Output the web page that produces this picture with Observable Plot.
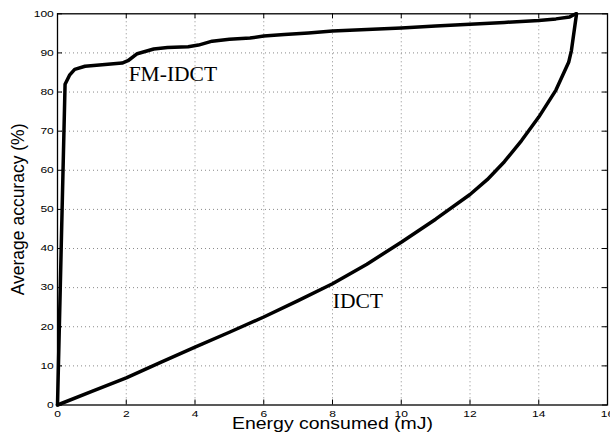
<!DOCTYPE html>
<html>
<head>
<meta charset="utf-8">
<script src="https://cdn.jsdelivr.net/npm/d3@7"></script>
<script src="https://cdn.jsdelivr.net/npm/@observablehq/plot@0.6"></script>
<style>
  body { margin: 0; background: #fff; }
  #chart svg { font-family: "Liberation Sans", Arial, sans-serif; background: #fff; overflow: visible; }
</style>
</head>
<body>
<div id="chart"></div>
<script>
// Axis ticks
const xTicks = [0, 2, 4, 6, 8, 10, 12, 14, 16];
const yTicks = [0, 10, 20, 30, 40, 50, 60, 70, 80, 90, 100];

// FM-IDCT: average accuracy (%) against energy consumed (mJ)
const fmEnergy   = [0, 0.22, 0.35, 0.5, 0.8, 1.3, 1.88, 2.05, 2.32, 2.8, 3.2, 3.8, 4.1, 4.5, 5.0, 5.6, 6.0, 6.6, 7.3, 8.0, 9.0, 10.0, 11.0, 12.0, 13.0, 14.0, 14.5, 14.9, 15.08];
const fmAccuracy = [0, 82.0, 84.3, 85.8, 86.6, 87.0, 87.4, 88.0, 89.8, 91.0, 91.4, 91.6, 92.0, 93.0, 93.5, 93.8, 94.3, 94.7, 95.1, 95.6, 96.0, 96.4, 96.9, 97.3, 97.8, 98.3, 98.7, 99.2, 100];

// IDCT: average accuracy (%) against energy consumed (mJ)
const idctEnergy   = [0, 1, 2, 3, 4, 5, 6, 7, 8, 9, 10, 11, 12, 12.5, 13, 13.5, 14, 14.5, 14.87, 14.95, 15.1];
const idctAccuracy = [0, 3.5, 6.95, 10.9, 14.8, 18.6, 22.5, 26.7, 31.0, 36.0, 41.6, 47.5, 53.8, 57.6, 62.2, 67.6, 73.6, 80.5, 87.6, 90.6, 100];

// Curve labels
const labelNames    = ["FM-IDCT", "IDCT"];
const labelEnergy   = [2.07, 8.01];
const labelAccuracy = [82.7, 24.7];

const fmData = fmEnergy.map((x, i) => ({x, y: fmAccuracy[i]}));
const idctData = idctEnergy.map((x, i) => ({x, y: idctAccuracy[i]}));
const labels = labelNames.map((text, i) => ({text, x: labelEnergy[i], y: labelAccuracy[i]}));

const W = 610, H = 443;
const mL = 57, mR = 3, mT = 13.3, mB = 38.5;
const plotW = W - mL - mR, plotH = H - mT - mB;
const tickLen = 5;
const inner = (arr) => arr.slice(1, -1);

const chart = Plot.plot({
  width: W,
  height: H,
  marginLeft: mL,
  marginRight: mR,
  marginTop: mT,
  marginBottom: mB,
  x: {domain: [0, 16]},
  y: {domain: [0, 100]},
  marks: [
    // dotted grid
    Plot.tickX(inner(xTicks), {x: d => d, stroke: "#8a8a8a", strokeWidth: 1, strokeDasharray: "1,3"}),
    Plot.tickY(inner(yTicks), {y: d => d, stroke: "#8a8a8a", strokeWidth: 1, strokeDasharray: "1,3"}),
    // inward ticks on all four sides
    Plot.tickX(xTicks, {x: d => d, insetTop: plotH - tickLen, stroke: "black"}),
    Plot.tickX(xTicks, {x: d => d, insetBottom: plotH - tickLen, stroke: "black"}),
    Plot.tickY(yTicks, {y: d => d, insetRight: plotW - tickLen, stroke: "black"}),
    Plot.tickY(yTicks, {y: d => d, insetLeft: plotW - tickLen, stroke: "black"}),
    Plot.frame({stroke: "black", strokeWidth: 1.3}),
    Plot.axisX(xTicks, {
      anchor: "bottom", tickSize: 0, tickPadding: 6,
      label: "Energy consumed (mJ)", labelAnchor: "center", labelArrow: "none", labelOffset: 23.5,
      fill: "black"
    }),
    Plot.axisY(yTicks, {
      anchor: "left", tickSize: 0, tickPadding: 3.7,
      label: "Average accuracy (%)", labelAnchor: "center", labelArrow: "none", labelOffset: 45.5,
      fill: "black"
    }),
    Plot.line(fmData, {x: "x", y: "y", stroke: "black", strokeWidth: 3.5, strokeLinejoin: "round", strokeLinecap: "round"}),
    Plot.line(idctData, {x: "x", y: "y", stroke: "black", strokeWidth: 3.5, strokeLinejoin: "round", strokeLinecap: "round"}),
    Plot.text(labels, {
      x: "x", y: "y", text: "text", textAnchor: "start", lineAnchor: "bottom",
      fontFamily: "Liberation Serif, Times New Roman, serif", fontSize: 21.5, fill: "black"
    })
  ]
});

// Tick labels and the x title are set in a horizontally widened Helvetica style
chart.querySelectorAll('[aria-label="x-axis tick label"] text, [aria-label="y-axis tick label"] text').forEach(t => {
  const n = t.textContent.length;
  t.setAttribute("font-size", "8.8px");
  t.setAttribute("textLength", n * 6.7);
  t.setAttribute("lengthAdjust", "spacingAndGlyphs");
});
chart.querySelectorAll('[aria-label="x-axis label"] text').forEach(t => {
  t.setAttribute("font-size", "16.3px");
  t.setAttribute("textLength", 201);
  t.setAttribute("lengthAdjust", "spacingAndGlyphs");
});
chart.querySelectorAll('[aria-label="y-axis label"] text').forEach(t => {
  t.setAttribute("font-size", "17.5px");
});

document.getElementById("chart").appendChild(chart);
</script>
</body>
</html>
